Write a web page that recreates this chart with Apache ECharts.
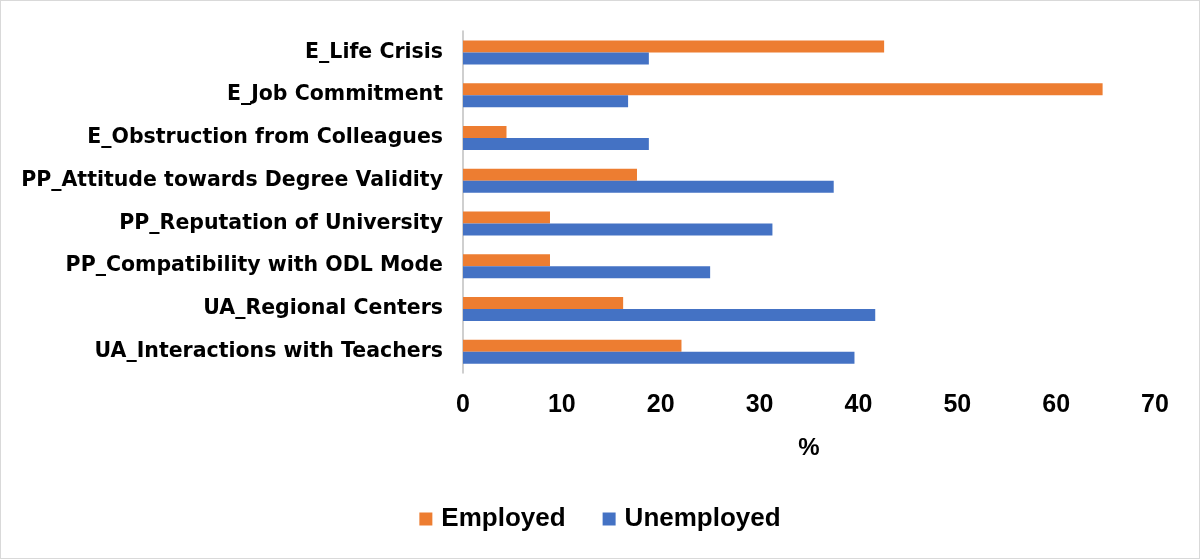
<!DOCTYPE html>
<html>
<head>
<meta charset="utf-8">
<script src="https://cdn.jsdelivr.net/npm/echarts@6/dist/echarts.min.js"></script>
<style>
  html, body { margin: 0; padding: 0; background: #fff; }
  #main { width: 1198px; height: 557px; border: 1px solid #d9d9d9; }
</style>
</head>
<body>
<div id="main"></div>
<script>
var categories = [
  'E_Life Crisis',
  'E_Job Commitment',
  'E_Obstruction from Colleagues',
  'PP_Attitude towards Degree Validity',
  'PP_Reputation of University',
  'PP_Compatibility with ODL Mode',
  'UA_Regional Centers',
  'UA_Interactions with Teachers'
];
var employed = [42.6, 64.7, 4.4, 17.6, 8.8, 8.8, 16.2, 22.1];
var unemployed = [18.8, 16.7, 18.8, 37.5, 31.3, 25.0, 41.7, 39.6];
var xTicks = { min: 0, max: 70, interval: 10 };

var myChart = echarts.init(document.getElementById('main'));

var font = 'Liberation Sans, Arial, sans-serif';
var wideFont = 'DejaVu Sans, Verdana, sans-serif';

var option = {
  animation: false,
  textStyle: { fontFamily: font },
  grid: { left: 462, right: 44, top: 30, bottom: 185 },
  legend: {
    bottom: 21,
    left: 'center',
    itemWidth: 13,
    itemHeight: 13,
    itemGap: 37,
    icon: 'rect',
    textStyle: { fontSize: 26, fontWeight: 'bold', color: '#000', fontFamily: font, padding: [0, 0, 0, 4] },
    data: ['Employed', 'Unemployed']
  },
  xAxis: {
    type: 'value',
    min: xTicks.min,
    max: xTicks.max,
    interval: xTicks.interval,
    name: '%',
    nameLocation: 'middle',
    nameGap: 63,
    nameTextStyle: { fontSize: 24, fontWeight: 'bold', color: '#000' },
    axisLine: { show: false },
    axisTick: { show: false },
    splitLine: { show: false },
    axisLabel: { fontSize: 25, fontWeight: 'bold', color: '#000', margin: 20 }
  },
  yAxis: {
    type: 'category',
    inverse: true,
    data: categories,
    axisLine: { show: true, lineStyle: { color: '#bfbfbf', width: 1.5 } },
    axisTick: { show: false },
    axisLabel: { fontSize: 20.5, fontWeight: 'bold', color: '#000', margin: 20, fontFamily: wideFont }
  },
  series: [
    {
      name: 'Employed',
      type: 'bar',
      data: employed,
      barWidth: 12,
      barGap: '0%',
      itemStyle: { color: '#ed7d31' }
    },
    {
      name: 'Unemployed',
      type: 'bar',
      data: unemployed,
      barWidth: 12,
      barGap: '0%',
      itemStyle: { color: '#4472c4' }
    }
  ]
};

myChart.setOption(option);
</script>
</body>
</html>
